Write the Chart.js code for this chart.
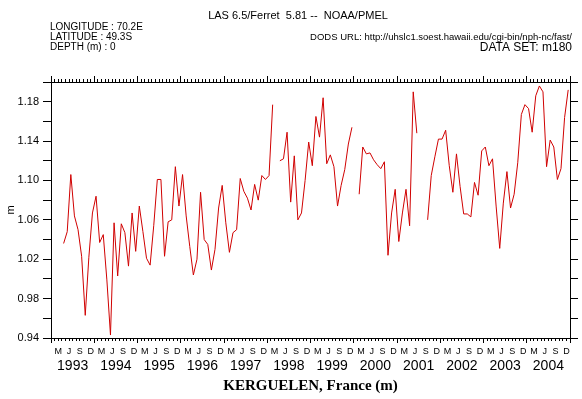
<!DOCTYPE html>
<html>
<head>
<meta charset="utf-8">
<script src="https://cdn.jsdelivr.net/npm/chart.js@4.4.1/dist/chart.umd.min.js"></script>
<style>
  html, body { margin: 0; padding: 0; background: #fff; }
</style>
</head>
<body>
<canvas id="seaLevel" width="582" height="399"></canvas>
<script>
// monthly sea level (m), Kerguelen, one array per year, Jan..Dec (null = no data)
const LEVEL_1993 = [null, null, null, 1.036, 1.048, 1.106, 1.064, 1.050, 1.023, 0.963, 1.022, 1.067];
const LEVEL_1994 = [1.084, 1.037, 1.045, 0.999, 0.943, 1.057, 1.003, 1.056, 1.047, 1.013, 1.067, 1.028];
const LEVEL_1995 = [1.074, 1.048, 1.021, 1.014, 1.054, 1.101, 1.101, 1.023, 1.058, 1.060, 1.114, 1.074];
const LEVEL_1996 = [1.106, 1.064, 1.033, 1.004, 1.020, 1.088, 1.040, 1.035, 1.009, 1.030, 1.072, 1.095];
const LEVEL_1997 = [1.057, 1.027, 1.047, 1.050, 1.102, 1.089, 1.082, 1.070, 1.096, 1.080, 1.105, 1.101];
const LEVEL_1998 = [1.105, 1.177, null, 1.120, 1.122, 1.149, 1.078, 1.125, 1.060, 1.067, 1.100, 1.139];
const LEVEL_1999 = [1.115, 1.165, 1.144, 1.184, 1.117, 1.126, 1.114, 1.074, 1.095, 1.111, 1.137, 1.154];
const LEVEL_2000 = [null, 1.086, 1.134, 1.127, 1.128, 1.121, 1.116, 1.112, 1.119, 1.024, 1.067, 1.091];
const LEVEL_2001 = [1.038, 1.067, 1.091, 1.054, 1.190, 1.148, null, null, 1.060, 1.105, 1.124, 1.142];
const LEVEL_2002 = [1.142, 1.151, 1.115, 1.088, 1.127, 1.094, 1.066, 1.066, 1.063, 1.098, 1.085, 1.130];
const LEVEL_2003 = [1.134, 1.115, 1.122, 1.074, 1.031, 1.077, 1.109, 1.072, 1.086, 1.118, 1.167, 1.177];
const LEVEL_2004 = [1.173, 1.149, 1.186, 1.196, 1.190, 1.114, 1.141, 1.134, 1.101, 1.112, 1.164, 1.192];

const YEARS = ['1993', '1994', '1995', '1996', '1997', '1998', '1999', '2000', '2001', '2002', '2003', '2004'];
const MONTH_LETTERS = ['', '', 'M', '', '', 'J', '', '', 'S', '', '', 'D'];

const Y_MIN = 0.94;
const Y_MAX = 1.20;
const Y_STEP = 0.02;

const levels = [].concat(LEVEL_1993, LEVEL_1994, LEVEL_1995, LEVEL_1996, LEVEL_1997, LEVEL_1998,
                         LEVEL_1999, LEVEL_2000, LEVEL_2001, LEVEL_2002, LEVEL_2003, LEVEL_2004);
const nMonths = YEARS.length * 12;

// points sit in the middle of their month
const points = levels.map((v, i) => ({ x: i + 0.5, y: v }));

const sans = '"Liberation Sans", Arial, sans-serif';

function monthTicks(axis) {
    axis.ticks = [];
    for (let m = 0; m <= nMonths; m++) axis.ticks.push({ value: m });
}
function yearTicks(axis) {
    axis.ticks = [];
    for (let m = 0; m <= nMonths; m += 12) axis.ticks.push({ value: m });
}
function quarterTicks(axis) {
    axis.ticks = [];
    for (let m = 0; m <= nMonths; m++) {
        if (m % 12 === 0 || MONTH_LETTERS[m % 12]) axis.ticks.push({ value: m });
    }
}
function midYearTicks(axis) {
    axis.ticks = YEARS.map((y, i) => ({ value: i * 12 + 6 }));
}

const headerText = {
    id: 'headerText',
    afterDraw(chart) {
        const ctx = chart.ctx;
        ctx.save();
        ctx.fillStyle = '#000';
        ctx.textBaseline = 'middle';

        ctx.font = '11px ' + sans;
        ctx.textAlign = 'center';
        ctx.fillText('LAS 6.5/Ferret  5.81 --  NOAA/PMEL', 298, 16);

        ctx.font = '10px ' + sans;
        ctx.textAlign = 'left';
        ctx.fillText('LONGITUDE : 70.2E', 50, 27);
        ctx.fillText('LATITUDE : 49.3S', 50, 37);
        ctx.fillText('DEPTH (m) : 0', 50, 47);

        ctx.textAlign = 'right';
        ctx.font = '9.5px ' + sans;
        ctx.fillText('DODS URL: http://uhslc1.soest.hawaii.edu/cgi-bin/nph-nc/fast/', 572, 37);
        ctx.font = '12px ' + sans;
        ctx.fillText('DATA SET: m180', 572, 48);
        ctx.restore();
    }
};

const black = '#000';
const noLabels = { display: false };

new Chart(document.getElementById('seaLevel'), {
    type: 'line',
    data: {
        datasets: [{
            data: points,
            borderColor: '#d00000',
            borderWidth: 1,
            pointRadius: 0,
            tension: 0,
            spanGaps: false,
            xAxisID: 'x',
            yAxisID: 'y'
        }]
    },
    options: {
        responsive: false,
        devicePixelRatio: 1,
        animation: false,
        layout: { padding: { top: 76, left: 0, right: 0, bottom: 0 } },
        plugins: {
            legend: { display: false },
            tooltip: { enabled: false },
            title: { display: false }
        },
        scales: {
            y: {
                type: 'linear',
                position: 'left',
                min: Y_MIN, max: Y_MAX,
                ticks: {
                    stepSize: Y_STEP,
                    color: black,
                    padding: 4,
                    font: { size: 11, family: sans },
                    callback: (v) => {
                        const c = Math.round(v * 100);
                        return c % 4 === 2 ? (c / 100).toFixed(2) : '';
                    }
                },
                grid: { drawOnChartArea: false, tickLength: 8, color: black },
                border: { color: black },
                title: {
                    display: true, text: 'm', color: black,
                    font: { size: 11, family: sans },
                    padding: { top: 4, bottom: 0 }
                },
                afterFit: (axis) => { axis.width = 51; }
            },
            yRight: {
                type: 'linear',
                position: 'right',
                min: Y_MIN, max: Y_MAX,
                ticks: { stepSize: Y_STEP, display: false },
                grid: { drawOnChartArea: false, tickLength: 8, color: black },
                border: { color: black },
                afterFit: (axis) => { axis.width = 12; }
            },
            x: {
                type: 'linear',
                position: 'bottom',
                weight: 0,
                min: 0, max: nMonths,
                ticks: noLabels,
                afterBuildTicks: monthTicks,
                grid: { drawOnChartArea: false, tickLength: 3, color: black },
                border: { color: black },
                afterFit: (axis) => { axis.height = 3; }
            },
            xQuarter: {
                type: 'linear',
                position: 'bottom',
                weight: 1,
                min: 0, max: nMonths,
                afterBuildTicks: quarterTicks,
                ticks: {
                    autoSkip: false, maxRotation: 0, minRotation: 0,
                    padding: 3, color: black,
                    font: { size: 9, family: sans },
                    callback: (v) => MONTH_LETTERS[v % 12]
                },
                grid: {
                    drawOnChartArea: false, tickLength: 2,
                    color: (c) => (c.tick && c.tick.value % 12 === 0) ? black : 'rgba(0,0,0,0)'
                },
                border: { display: false },
                afterFit: (axis) => { axis.height = 16; }
            },
            xYear: {
                type: 'linear',
                position: 'bottom',
                weight: 2,
                min: 0, max: nMonths,
                afterBuildTicks: midYearTicks,
                ticks: {
                    autoSkip: false, maxRotation: 0, minRotation: 0,
                    padding: 1, color: black,
                    font: { size: 14, family: sans },
                    callback: (v) => YEARS[Math.floor(v / 12)]
                },
                grid: { display: false, drawTicks: false },
                border: { display: false },
                title: {
                    display: true,
                    text: 'KERGUELEN, France (m)',
                    color: black,
                    font: { size: 15, weight: 'bold', family: '"Liberation Serif", "Times New Roman", serif' },
                    padding: { top: 4, bottom: 4 }
                },
                afterFit: (axis) => { axis.height = 42; }
            },
            xTopMinor: {
                type: 'linear',
                position: 'top',
                weight: 0,
                min: 0, max: nMonths,
                ticks: noLabels,
                afterBuildTicks: monthTicks,
                grid: { drawOnChartArea: false, tickLength: 3, color: black },
                border: { color: black },
                afterFit: (axis) => { axis.height = 3; }
            },
            xTopMajor: {
                type: 'linear',
                position: 'top',
                weight: 1,
                min: 0, max: nMonths,
                ticks: noLabels,
                afterBuildTicks: yearTicks,
                grid: { drawOnChartArea: false, tickLength: 3, color: black },
                border: { display: false },
                afterFit: (axis) => { axis.height = 3; }
            }
        }
    },
    plugins: [headerText]
});
</script>
</body>
</html>
